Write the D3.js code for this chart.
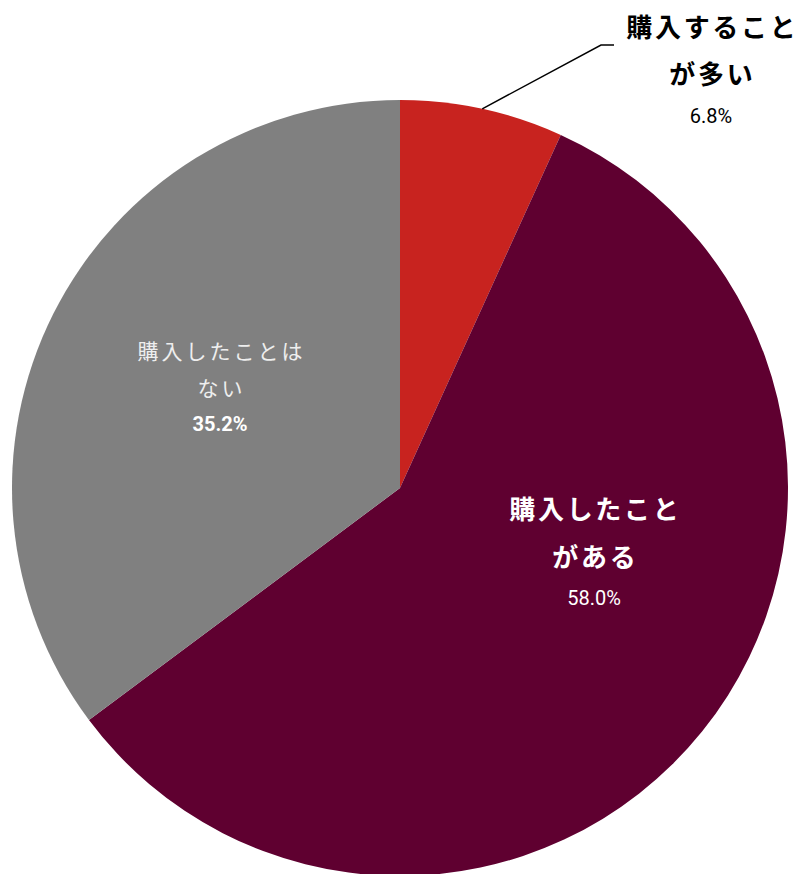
<!DOCTYPE html>
<html>
<head>
<meta charset="utf-8">
<script src="https://cdn.jsdelivr.net/npm/d3@7"></script>
<style>
body { margin:0; background:#fff; }
svg { display:block; }
</style>
</head>
<body>
<svg id="chart" width="800" height="874"></svg>
<script>
var categories = ["購入することが多い", "購入したことがある", "購入したことはない"];
var values = [6.8, 58.0, 35.2];
var labelLines = [["購入すること", "が多い"], ["購入したこと", "がある"], ["購入したことは", "ない"]];
var colors = ["#c8231f", "#5f0030", "#808080"];

var data = categories.map(function(c, i) {
    return {name: c, value: values[i], lines: labelLines[i], color: colors[i]};
});

// label placement, per slice
var labelPos = [
    {x: 711, y: 25, size: 26, spacing: 2.7, weight: 700, fill: "#000", pctFill: "#000", pctWeight: 400, gap: 47, pctGap: 44},
    {x: 594, y: 507, size: 26, spacing: 2.7, weight: 700, fill: "#fff", pctFill: "#fff", pctWeight: 400, gap: 48, pctGap: 43},
    {x: 220, y: 350, size: 21, spacing: 3, weight: 400, fill: "#eeeeee", pctFill: "#fff", pctWeight: 700, gap: 37, pctGap: 37}
];

var svg = d3.select("#chart");
var cx = 400, cy = 488, radius = 388;

var pie = d3.pie().sort(null).value(function(d) { return d.value; });
var arc = d3.arc().innerRadius(0).outerRadius(radius);

var g = svg.append("g").attr("transform", "translate(" + cx + "," + cy + ")");

var arcs = pie(data);

g.selectAll("path").data(arcs).enter()
    .append("path")
    .attr("d", arc)
    .attr("fill", function(d) { return d.data.color; })
    .attr("stroke", "none");

// leader line for the small slice
var small = arcs[0];
var mid = (small.startAngle + small.endAngle) / 2;
var p0 = [cx + radius * Math.sin(mid), cy - radius * Math.cos(mid)];
svg.append("polyline")
    .attr("points", [p0, [601, 45], [614, 45]].map(function(p) { return p.join(","); }).join(" "))
    .attr("fill", "none")
    .attr("stroke", "#000")
    .attr("stroke-width", 1.5);

var labels = svg.selectAll("g.label").data(arcs).enter()
    .append("g").attr("class", "label");

labels.each(function(d, i) {
    var pos = labelPos[i];
    var sel = d3.select(this);
    d.data.lines.forEach(function(line, j) {
        sel.append("text")
            .attr("x", pos.x + pos.spacing / 2)
            .attr("y", pos.y + j * pos.gap)
            .attr("text-anchor", "middle")
            .attr("dominant-baseline", "central")
            .attr("font-family", "'Noto Sans CJK JP', 'Noto Sans', sans-serif")
            .attr("font-size", pos.size)
            .attr("font-weight", pos.weight)
            .attr("letter-spacing", pos.spacing)
            .attr("fill", pos.fill)
            .text(line);
    });
    sel.append("text")
        .attr("x", pos.x)
        .attr("y", pos.y + (d.data.lines.length - 1) * pos.gap + pos.pctGap)
        .attr("text-anchor", "middle")
        .attr("dominant-baseline", "central")
        .attr("font-family", "Roboto, sans-serif")
        .attr("font-size", 20)
        .attr("font-weight", pos.pctWeight)
        .attr("fill", pos.pctFill)
        .text(d3.format(".1f")(d.data.value) + "%");
});
</script>
</body>
</html>
